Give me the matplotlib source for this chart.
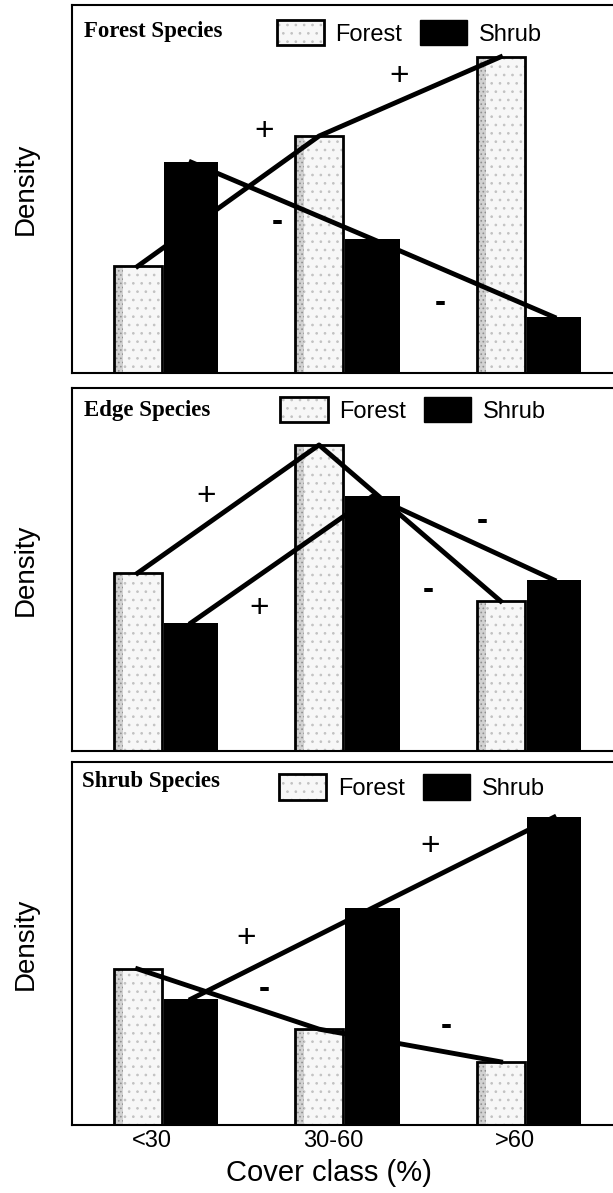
import matplotlib.pyplot as plt
import numpy as np
from matplotlib.patches import Patch
from matplotlib.legend_handler import HandlerTuple

plt.rcParams['font.family'] = ['Liberation Sans', 'DejaVu Sans']
plt.rcParams['hatch.linewidth'] = 0.7

classes = ['<30', '30-60', '>60']
panel_titles = ['Forest Species', 'Edge Species', 'Shrub Species']

# relative density (panel height = 1)
forest_sp_forest = [0.29, 0.644, 0.859]
forest_sp_shrub = [0.573, 0.364, 0.152]
edge_sp_forest = [0.49, 0.843, 0.413]
edge_sp_shrub = [0.353, 0.702, 0.471]
shrub_sp_forest = [0.43, 0.264, 0.174]
shrub_sp_shrub = [0.347, 0.598, 0.848]

# trend signs written next to the lines: (sign, x, y)
forest_sp_signs = [('+', 0.56, 0.656), ('+', 1.30, 0.807), ('-', 0.63, 0.409), ('-', 1.53, 0.19)]
edge_sp_signs = [('+', 0.237, 0.70), ('+', 0.529, 0.392), ('-', 1.758, 0.633), ('-', 1.46, 0.443)]
shrub_sp_signs = [('+', 0.457, 0.514), ('+', 1.47, 0.768), ('-', 0.556, 0.372), ('-', 1.56, 0.271)]

forest_vals = [forest_sp_forest, edge_sp_forest, shrub_sp_forest]
shrub_vals = [forest_sp_shrub, edge_sp_shrub, shrub_sp_shrub]
signs = [forest_sp_signs, edge_sp_signs, shrub_sp_signs]

fig = plt.figure(figsize=(6.13, 11.93), dpi=100)
rects = [[0.1175, 0.6873, 0.885, 0.3085],
         [0.1175, 0.3705, 0.885, 0.3043],
         [0.1175, 0.0570, 0.885, 0.3043]]
legend_pos = [(0.377, 0.959), (0.384, 0.975), (0.382, 0.966)]
title_pos = [(0.022, 0.913), (0.022, 0.923), (0.019, 0.931)]

x = np.arange(len(classes))
fx = x - 0.14
sx = x + 0.155
fw = 0.265
sw = 0.30

for i in range(3):
    ax = fig.add_axes(rects[i])
    fv = forest_vals[i]
    sv = shrub_vals[i]

    # stippled forest bars with darker left edge
    ax.bar(fx, fv, fw, color='#f7f7f7', edgecolor='#c2c2c2', hatch='..', linewidth=0, zorder=2)
    ax.bar(fx - fw / 2, fv, 0.05, align='edge', color='#d2d2d2', edgecolor='#909090',
           hatch='....', linewidth=0, zorder=2)
    ax.bar(fx, fv, fw, fill=False, edgecolor='black', linewidth=2, zorder=3)
    ax.bar(sx, sv, sw, color='black', edgecolor='black', linewidth=0, zorder=3)

    ax.plot(fx, fv, color='black', lw=3.5, zorder=4)
    ax.plot(sx, sv, color='black', lw=3.5, zorder=4)

    for s, tx, ty in signs[i]:
        ax.text(tx, ty, s, fontsize=24, ha='center', va='center', zorder=5,
                fontweight='bold' if s == '-' else 'normal')

    ax.text(title_pos[i][0], title_pos[i][1], panel_titles[i], transform=ax.transAxes,
            family='Liberation Serif', fontweight='bold', fontsize=16.5, va='baseline')

    h_forest = (Patch(facecolor='#f7f7f7', edgecolor='#c2c2c2', hatch='..', linewidth=0),
                Patch(fill=False, edgecolor='black', linewidth=2))
    h_shrub = Patch(facecolor='black', edgecolor='black')
    ax.legend([h_forest, h_shrub], ['Forest', 'Shrub'],
              handler_map={tuple: HandlerTuple(ndivide=1, pad=0)},
              loc='upper left', bbox_to_anchor=legend_pos[i], ncol=2, frameon=False,
              fontsize=17, handlelength=2.0, handleheight=1.27, handletextpad=0.5,
              columnspacing=0.75, borderpad=0, borderaxespad=0)

    ax.set_xlim(-0.501, 2.488)
    ax.set_ylim(0, 1)
    ax.set_yticks([])
    ax.set_ylabel('Density', fontsize=20, labelpad=24)
    ax.spines['right'].set_visible(False)
    for sp in ['left', 'top', 'bottom']:
        ax.spines[sp].set_linewidth(1.5)
    if i == 2:
        ax.set_xticks(x - 0.06)
        ax.set_xticklabels(classes, fontsize=17)
        ax.tick_params(axis='x', length=0, pad=3.5)
    else:
        ax.set_xticks([])

fig.text(329 / 613, 0.010, 'Cover class (%)', ha='center', va='baseline', fontsize=21)

plt.savefig('out.png', dpi=100)
